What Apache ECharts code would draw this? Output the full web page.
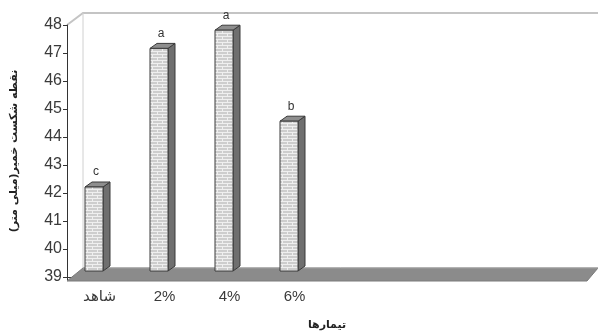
<!DOCTYPE html>
<html>
<head>
<meta charset="utf-8">
<script src="https://cdn.jsdelivr.net/npm/echarts@6/dist/echarts.min.js"></script>
<style>
  html, body { margin: 0; padding: 0; background: #fff; }
  #chart { width: 598px; height: 336px; }
</style>
</head>
<body>
<div id="chart"></div>
<script>
// Treatments and dough breaking point (mm)
const categories = ['شاهد', '2%', '4%', '6%', '', '', '', ''];
const breakPoint = [42.0, 46.95, 47.6, 44.35];
const groupLetters = ['c', 'a', 'a', 'b'];
const yTicks = { min: 39, max: 48, interval: 1 };

const GRID = { left: 67, right: 11, top: 25, bottom: 53 };
// pseudo-3D depth of the plot box and of each column
const WALL_DX = 16, WALL_DY = 12;
const BAR_DX = 7, BAR_DY = 5, BAR_W = 18, BAR_SHIFT = -5.5, BAR_LIFT = 6;

// brick texture for the column fronts
function brickPattern() {
  const c = document.createElement('canvas');
  c.width = 10; c.height = 6;
  const g = c.getContext('2d');
  g.fillStyle = '#cdcdcd';
  g.fillRect(0, 0, 10, 6);
  g.fillStyle = '#efefef';
  g.fillRect(0, 0, 10, 1);
  g.fillRect(0, 3, 10, 1);
  g.fillRect(2, 0, 1, 3);
  g.fillRect(7, 3, 1, 3);
  return { image: c, repeat: 'repeat' };
}
const brick = brickPattern();

const chart = echarts.init(document.getElementById('chart'), null, { renderer: 'canvas' });

function renderColumn(params, api) {
  const idx = api.value(0);
  const top = api.coord([idx, api.value(1)]);
  const base = api.coord([idx, yTicks.min]);
  const cx = top[0] + BAR_SHIFT;
  const xl = cx - BAR_W / 2, xr = cx + BAR_W / 2;
  const yt = top[1] - BAR_LIFT, yb = base[1] - BAR_LIFT;
  const stroke = '#3a3a3a';
  return {
    type: 'group',
    children: [
      { type: 'polygon', shape: { points: [[xr, yt], [xr + BAR_DX, yt - BAR_DY], [xr + BAR_DX, yb - BAR_DY], [xr, yb]] },
        style: { fill: '#6f6f6f', stroke: stroke, lineWidth: 1 } },
      { type: 'polygon', shape: { points: [[xl, yt], [xl + BAR_DX, yt - BAR_DY], [xr + BAR_DX, yt - BAR_DY], [xr, yt]] },
        style: { fill: '#8e8e8e', stroke: stroke, lineWidth: 1 } },
      { type: 'rect', shape: { x: xl, y: yt, width: BAR_W, height: yb - yt },
        style: { fill: brick, stroke: stroke, lineWidth: 1 } },
      { type: 'text', style: { text: groupLetters[idx], x: cx + 2, y: yt - BAR_DY - 4,
        align: 'center', verticalAlign: 'bottom', fill: '#333', font: '12px "Liberation Sans", Arial, sans-serif' } }
    ]
  };
}

const option = {
  animation: false,
  backgroundColor: '#ffffff',
  grid: { left: GRID.left, right: GRID.right, top: GRID.top, bottom: GRID.bottom, containLabel: false },
  xAxis: {
    type: 'category',
    data: categories,
    boundaryGap: true,
    axisLine: { show: true, lineStyle: { color: '#333', width: 1 } },
    axisTick: { show: true, length: 3, alignWithLabel: false, lineStyle: { color: '#333' } },
    axisLabel: { color: '#3a3a3a', fontSize: 15, margin: 12, fontFamily: '"Liberation Sans", "DejaVu Sans", sans-serif', interval: 0 },
    name: 'تیمارها',
    nameLocation: 'middle',
    nameGap: 43,
    nameTextStyle: { color: '#222', fontSize: 11, fontWeight: 'bold', fontFamily: '"DejaVu Sans", sans-serif' }
  },
  yAxis: {
    type: 'value',
    min: yTicks.min, max: yTicks.max, interval: yTicks.interval,
    axisLine: { show: true, lineStyle: { color: '#333', width: 1 } },
    axisTick: { show: true, inside: false, length: 4, lineStyle: { color: '#333' } },
    axisLabel: { color: '#3a3a3a', fontSize: 16, margin: 5, fontFamily: '"Liberation Sans", Arial, sans-serif' },
    splitLine: { show: false },
    name: 'نقطه شکست خمیر(میلی متر)',
    nameLocation: 'middle',
    nameGap: 47,
    nameRotate: 90,
    nameTextStyle: { color: '#222', fontSize: 11, fontWeight: 'bold', fontFamily: '"DejaVu Sans", sans-serif' }
  },
  series: [{
    type: 'custom',
    renderItem: renderColumn,
    data: breakPoint.map((v, i) => [i, v]),
    encode: { x: 0, y: 1 },
    z: 5,
    clip: false
  }]
};
chart.setOption(option);

// back wall edges and the floor slab, placed from the grid rectangle
function drawBox() {
  const W = chart.getWidth(), H = chart.getHeight();
  const x0 = GRID.left, x1 = W - GRID.right;
  const y0 = GRID.top, y1 = H - GRID.bottom;
  const floorTop = y1 - WALL_DY - 3;
  chart.setOption({
    graphic: [
      { type: 'polyline', z: 0, shape: { points: [[x0, y0], [x0 + WALL_DX, y0 - WALL_DY], [W, y0 - WALL_DY]] },
        style: { stroke: '#c4c4c4', lineWidth: 2, fill: null } },
      { type: 'line', z: 0, shape: { x1: x0 + WALL_DX, y1: y0 - WALL_DY, x2: x0 + WALL_DX, y2: floorTop },
        style: { stroke: '#d0d0d0', lineWidth: 1 } },
      { type: 'polygon', z: 1, shape: { points: [[x0 + WALL_DX, floorTop], [W, floorTop], [x1, y1 - 2], [x0, y1 - 2]] },
        style: { fill: '#8b8b8b', stroke: '#7a7a7a', lineWidth: 1 } },
      { type: 'line', z: 1, shape: { x1: x0 + WALL_DX, y1: floorTop, x2: W, y2: floorTop },
        style: { stroke: '#a8a8a8', lineWidth: 1 } }
    ]
  });
}
drawBox();
</script>
</body>
</html>
